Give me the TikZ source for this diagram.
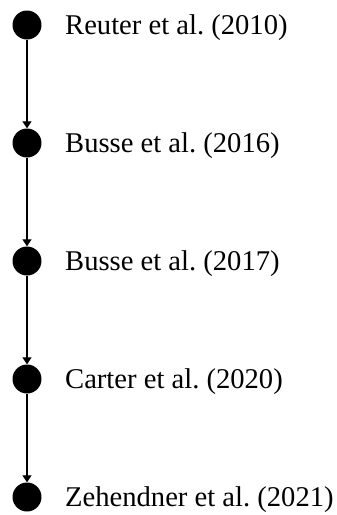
\documentclass[tikz,border=0pt]{standalone}
\usepackage{fontspec}
\setmainfont{Liberation Serif}
\usetikzlibrary{arrows.meta}
\frenchspacing
\begin{document}
\begin{tikzpicture}[x=1pt,y=-1pt,
  dot/.style={circle,fill=black,minimum size=29pt,inner sep=0pt},
  lbl/.style={anchor=base west,inner sep=0pt,font=\fontsize{28.6}{32}\selectfont},
  link/.style={line width=1.1pt,-{Triangle[length=7pt,width=9pt]},shorten >=0pt}]
\useasboundingbox (0,0) rectangle (337,515);
\node[dot] (d1) at (27,25) {};
\node[dot] (d2) at (27,143) {};
\node[dot] (d3) at (27,261) {};
\node[dot] (d4) at (27,379) {};
\node[dot] (d5) at (27,497) {};
\node[lbl] (t1) at (65,34) {Reuter et al. (2010)};
\node[lbl] (t2) at (65,152) {Busse et al. (2016)};
\node[lbl] (t3) at (65,270) {Busse et al. (2017)};
\node[lbl] (t4) at (65,388) {Carter et al. (2020)};
\node[lbl] (t5) at (65,506) {Zehendner et al. (2021)};
\draw[link] (d1.south) -- (d2.north);
\draw[link] (d2.south) -- (d3.north);
\draw[link] (d3.south) -- (d4.north);
\draw[link] (d4.south) -- (d5.north);
\end{tikzpicture}
\end{document}
